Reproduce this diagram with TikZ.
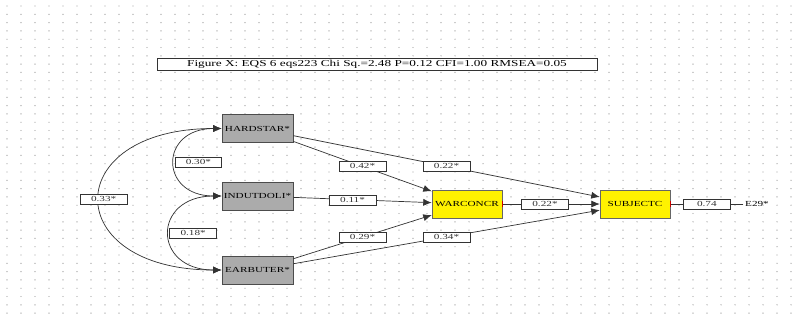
\documentclass[tikz,border=0pt]{standalone}
\usepackage{fontspec}
\setmainfont{Liberation Serif}
\usepackage{graphicx}
\usetikzlibrary{arrows.meta}

% stretched text, as in the exported path diagram
\newcommand{\wtxt}[1]{\scalebox{1.45}[1]{#1}}

\begin{document}
\begin{tikzpicture}[x=0.025cm, y=-0.025cm,
  exo/.style={draw=black!70, fill=black!33, minimum width=1.78cm, minimum height=0.7cm,
              inner sep=0pt, font=\fontsize{5.5}{6}\selectfont},
  endo/.style={draw=black!60, fill=yellow, minimum width=1.75cm, minimum height=0.7cm,
               inner sep=0pt, font=\fontsize{5.5}{6}\selectfont},
  errv/.style={inner sep=1pt, font=\fontsize{5.5}{6}\selectfont},
  lbl/.style={draw=black!80, fill=white, minimum width=1.17cm, minimum height=0.25cm,
              inner sep=0pt, font=\fontsize{5.5}{6}\selectfont},
  ttl/.style={draw=black!80, fill=white, minimum width=11cm, minimum height=0.3cm,
              inner sep=0pt, font=\fontsize{6.5}{7}\selectfont},
  arr/.style={-{Latex[length=6pt,width=5pt]}, black!80, line width=0.5pt},
  cov/.style={{Latex[length=6pt,width=5pt]}-{Latex[length=6pt,width=5pt]}, black!80, line width=0.5pt},
  dot/.style={fill=black!35},
]

\useasboundingbox (0,0) rectangle (807,324);

% === dotted page grid ===
\foreach \gx in {7,21,...,800}
  \foreach \gy in {6,14.3,...,318}
    \fill[dot] (\gx,\gy) circle (0.7);

% === Title ===
\node[ttl] (title) at (377,64) {\wtxt{Figure X: EQS 6 eqs223 Chi Sq.=2.48 P=0.12 CFI=1.00 RMSEA=0.05}};

% === Variables ===
\node[exo] (hs) at (257.5,128.5) {\wtxt{HARDSTAR*}};
\node[exo] (id) at (257.5,196) {\wtxt{INDUTDOLI*}};
\node[exo] (eb) at (257.5,270) {\wtxt{EARBUTER*}};
\node[endo] (wc) at (467,204) {\wtxt{WARCONCR}};
\node[endo] (sj) at (635,204) {\wtxt{SUBJECTC}};
\node[errv] (e29) at (757,204) {\wtxt{E29*}};

% === Covariances ===
\draw[cov] (hs.west) .. controls (59,128.5) and (59,270) .. (eb.west)
  node[lbl, pos=0.5, xshift=0.1cm] (c1) {\wtxt{0.33*}};
\draw[cov] (hs.west) .. controls (159,128.5) and (159,196) .. (id.west)
  node[lbl, pos=0.5, anchor=west] (c2) {\wtxt{0.30*}};
\draw[cov] (id.west) .. controls (152,196) and (152,270) .. (eb.west)
  node[lbl, pos=0.5, anchor=west] (c3) {\wtxt{0.18*}};

% === Paths ===
\draw[arr] (hs) -- node[lbl] (p1) {\wtxt{0.42*}} (wc);
\draw[arr] (hs) -- node[lbl] (p2) {\wtxt{0.22*}} (sj);
\draw[arr] (id) -- node[lbl, xshift=-0.25cm] (p3) {\wtxt{0.11*}} (wc);
\draw[arr] (eb) -- node[lbl] (p4) {\wtxt{0.29*}} (wc);
\draw[arr] (eb) -- node[lbl] (p5) {\wtxt{0.34*}} (sj);
\draw[arr, {Bar[red!80!black,width=4pt]}-{Latex[length=6pt,width=5pt]}] (wc) -- node[lbl, xshift=-0.15cm] (p6) {\wtxt{0.22*}} (sj);
\draw[arr, -{Bar[red!80!black,width=4pt]}] (e29) -- node[lbl] (p7) {\wtxt{0.74}} (sj);

\end{tikzpicture}
\end{document}
